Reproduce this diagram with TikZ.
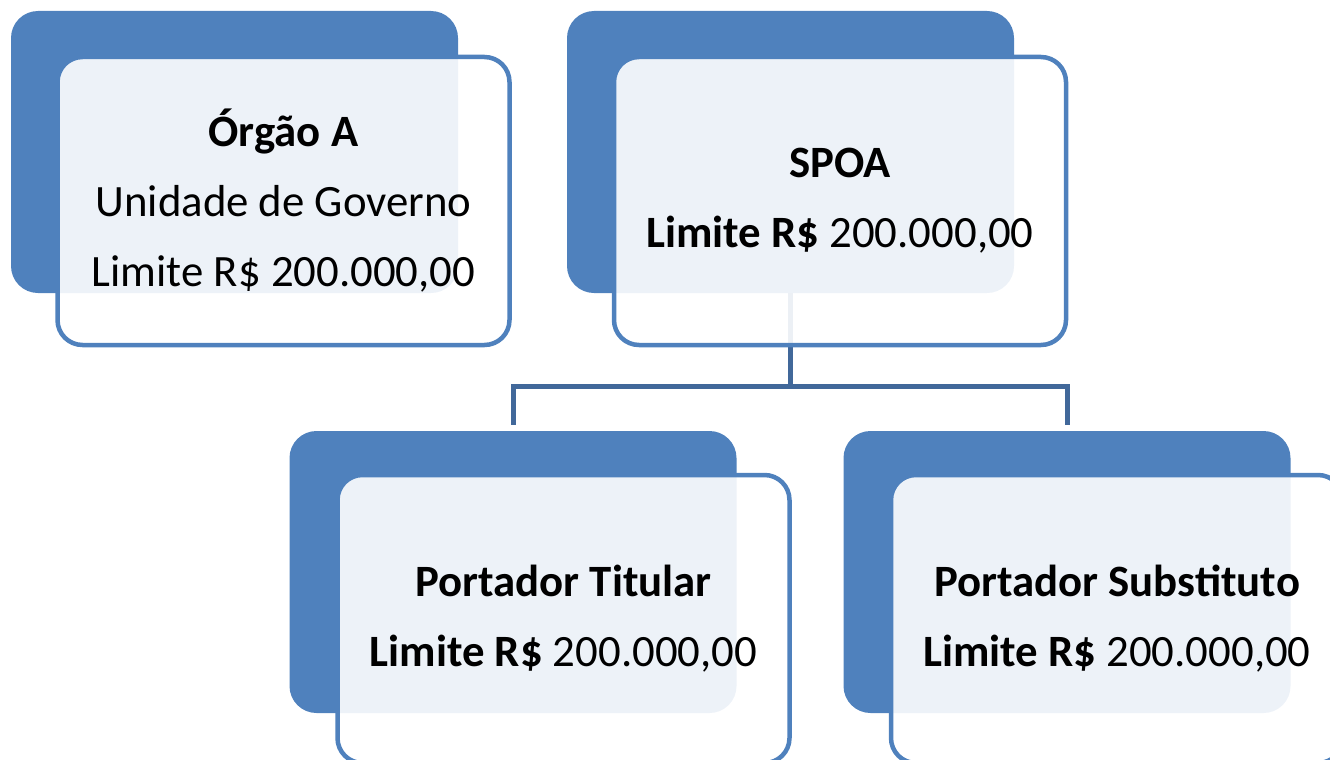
\documentclass[tikz,border=0pt]{standalone}
\usepackage{fontspec}
\setmainfont{Carlito}
\usepackage{tikz}

\definecolor{boxblue}{HTML}{4F81BD}
\definecolor{lineblue}{HTML}{41689A}

\tikzset{
  backbox/.style={fill=boxblue, rounded corners=27pt, minimum width=447pt, minimum height=282pt, inner sep=0pt},
  frontbox/.style={draw=boxblue, line width=4.5pt, fill=white, fill opacity=0.9, text opacity=1, rounded corners=25pt,
    minimum width=452pt, minimum height=288pt, inner sep=0pt, align=center, font=\fontsize{44.8}{70}\selectfont},
  conn/.style={draw=lineblue, line width=5pt}
}

\begin{document}
\begin{tikzpicture}[x=1pt, y=-1pt]
    \useasboundingbox (0,0) rectangle (1330,760);
    \clip (0,0) rectangle (1330,760);

    % Dark boxes at the back
    \foreach \name/\bx/\by in {orgao/234.5/152, spoa/790.5/152, tit/513/572, sub/1067/572} {
      \node[backbox] (\name b) at (\bx,\by) {};
    }

    % Connectors
    \coordinate (bus) at (790.5,386.5);
    \draw[conn] (spoab.south) -- (spoab.south |- bus);
    \draw[conn] ([yshift=6pt]titb.north) |- (bus) -| ([yshift=6pt]subb.north);

    % Light boxes with the texts
    \node[frontbox] (orgao) at ([shift={(49,49)}]orgaob.center) {\textbf{Órgão A}\\Unidade de Governo\\Limite R\$ 200.000,00};
    \node[frontbox] (spoa) at ([shift={(49.5,49)}]spoab.center) {\textbf{SPOA}\\\textbf{Limite R\$} 200.000,00};
    \node[frontbox] (tit) at ([shift={(50.5,47)}]titb.center) {\textbf{Portador Titular}\\\textbf{Limite R\$} 200.000,00};
    \node[frontbox] (sub) at ([shift={(50,47)}]subb.center) {\textbf{Portador Substituto}\\\textbf{Limite R\$} 200.000,00};
  \end{tikzpicture}
\end{document}
